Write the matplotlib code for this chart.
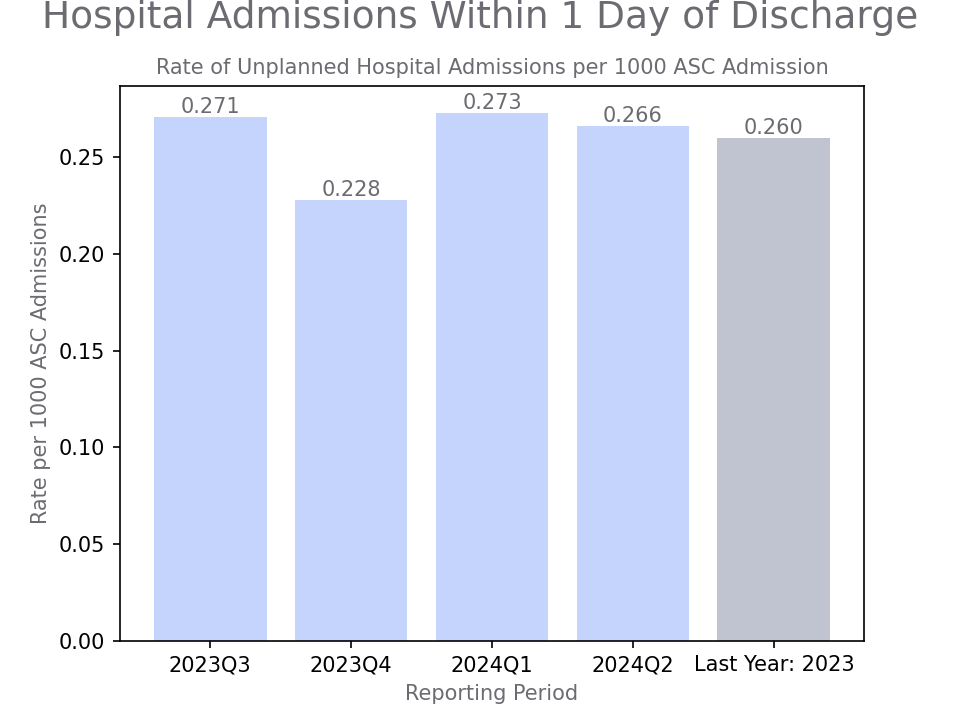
import matplotlib
matplotlib.use("Agg")
import matplotlib.pyplot as plt

periods = ["2023Q3", "2023Q4", "2024Q1", "2024Q2", "Last Year: 2023"]
rates = [0.271, 0.228, 0.273, 0.266, 0.260]
colors = ["#c5d4fd", "#c5d4fd", "#c5d4fd", "#c5d4fd", "#c0c4d0"]

text_grey = "#6b6b72"

fig, ax = plt.subplots(figsize=(6.4, 4.8), dpi=150)
bars = ax.bar(periods, rates, color=colors)
ax.bar_label(bars, fmt="%.3f", color=text_grey)

fig.suptitle("Hospital Admissions Within 1 Day of Discharge", fontsize=18,
             color=text_grey, y=1.0)
ax.set_title("Rate of Unplanned Hospital Admissions per 1000 ASC Admission",
             fontsize=10, color=text_grey)
ax.set_xlabel("Reporting Period", color=text_grey)
ax.set_ylabel("Rate per 1000 ASC Admissions", color=text_grey)

fig.savefig("out.png", dpi=150)
